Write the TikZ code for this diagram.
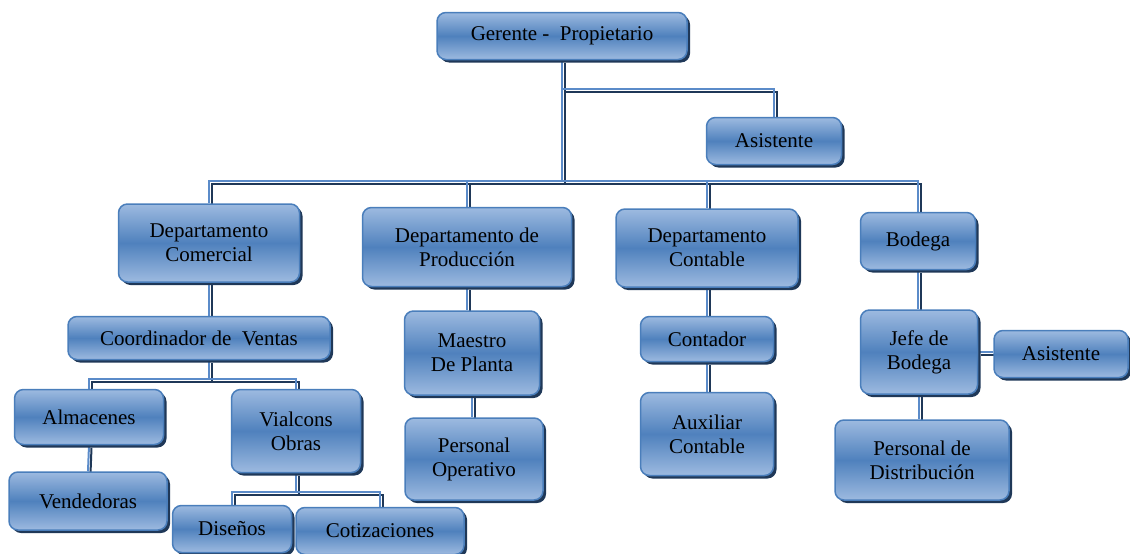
\documentclass[tikz,border=0pt]{standalone}
\usepackage{fontspec}
\setmainfont{Liberation Serif}
\usetikzlibrary{positioning, shadows, backgrounds}
\definecolor{boxlight}{HTML}{9DBAE0}
\definecolor{boxmid}{HTML}{4F81BD}
\definecolor{boxedge}{HTML}{4A7EBB}
\definecolor{navy}{HTML}{1F3858}
\definecolor{linkblue}{HTML}{5B8BC9}
\tikzset{
    orgbox/.style={
        rectangle, rounded corners=9pt, draw=boxedge, line width=1.5pt,
        top color=boxlight, bottom color=boxlight, middle color=boxmid,
        drop shadow={shadow xshift=3pt, shadow yshift=-3pt, fill=navy, opacity=1},
        align=center, inner sep=2pt, font=\fontsize{21}{24}\selectfont
    },
    link/.style={
        draw=linkblue, line width=2pt,
        preaction={draw=navy, line width=2pt, transform canvas={shift={(2.5pt,-2.5pt)}}}
    }
}

\begin{document}
\begin{tikzpicture}[x=1pt, y=-1pt]
    \useasboundingbox (0,0) rectangle (1130,554);

    % ── Top ──
    \node[orgbox, minimum width=250pt, minimum height=47pt] (ger)   at (562,36)  {Gerente -~ Propietario};
    \node[orgbox, minimum width=135pt, minimum height=47pt] (asis)  at (774,141) {Asistente};

    % ── Departments ──
    \node[orgbox, minimum width=181pt, minimum height=78pt] (dcom)  at (209,243) {Departamento\\Comercial};
    \node[orgbox, minimum width=209pt, minimum height=79pt] (dprod) at (467,247) {Departamento de\\Producción};
    \node[orgbox, minimum width=182pt, minimum height=78pt] (dcont) at (707,248) {Departamento\\Contable};
    \node[orgbox, minimum width=115pt, minimum height=57pt] (bod)   at (918,241) {Bodega};

    % ── Second level ──
    \node[orgbox, minimum width=262pt, minimum height=43pt] (coord)   at (199,338) {Coordinador de~ Ventas};
    \node[orgbox, minimum width=135pt, minimum height=84pt] (maestro) at (472,353) {Maestro\\De Planta};
    \node[orgbox, minimum width=133pt, minimum height=45pt] (conta)   at (707,339) {Contador};
    \node[orgbox, minimum width=117pt, minimum height=84pt] (jefe)    at (919,352) {Jefe de\\Bodega};
    \node[orgbox, minimum width=134pt, minimum height=47pt] (asisb)   at (1061,354) {Asistente};

    % ── Third level ──
    \node[orgbox, minimum width=149pt, minimum height=55pt] (alm)     at (89,417)  {Almacenes};
    \node[orgbox, minimum width=129pt, minimum height=83pt] (vial)    at (296,431) {Vialcons\\Obras};
    \node[orgbox, minimum width=138pt, minimum height=82pt] (persop)  at (474,459) {Personal\\Operativo};
    \node[orgbox, minimum width=133pt, minimum height=83pt] (aux)     at (707,434) {Auxiliar\\Contable};
    \node[orgbox, minimum width=174pt, minimum height=80pt] (persdis) at (922,460) {Personal de\\Distribución};

    % ── Bottom ──
    \node[orgbox, minimum width=158pt, minimum height=58pt] (vend)    at (88,501)  {Vendedoras};
    \node[orgbox, minimum width=119pt, minimum height=47pt] (dis)     at (232,529) {Diseños};
    \node[orgbox, minimum width=168pt, minimum height=47pt] (cot)     at (380,531) {Cotizaciones};

    % ── Bus lines ──
    \coordinate (asisbus) at (0,89);
    \coordinate (mainbus) at (0,181);
    \coordinate (coordbus) at (0,379);
    \coordinate (vialbus) at (0,492);

    \begin{scope}[on background layer]
        \draw[link] (ger.south) -- (ger.south |- mainbus);
        \draw[link] (ger.south |- asisbus) -| (asis.north);
        \draw[link] (dcom.north) |- (bod.north |- mainbus) -- (bod.north);
        \draw[link] (dprod.north) -- (dprod.north |- mainbus);
        \draw[link] (dcont.north) -- (dcont.north |- mainbus);

        \draw[link] (dcom.south)  -- (coord.north -| dcom.south);
        \draw[link] (coord.south -| dcom.south) -- (dcom.south |- coordbus);
        \draw[link] (alm.north) |- (coordbus -| vial.north) -- (vial.north);
        \draw[link] (alm.south) -- (vend.north);
        \draw[link] (vial.south) -- (vial.south |- vialbus);
        \draw[link] (dis.north) |- (vialbus -| cot.north) -- (cot.north);

        \draw[link] (dprod.south) -- (maestro.north -| dprod.south);
        \draw[link] (maestro.south) -- (persop.north -| maestro.south);
        \draw[link] (dcont.south) -- (conta.north);
        \draw[link] (conta.south) -- (aux.north);
        \draw[link] (bod.south) -- (jefe.north -| bod.south);
        \draw[link] (jefe.south) -- (persdis.north -| jefe.south);
        \draw[link] (jefe.east) -- (asisb.west |- jefe.east);
    \end{scope}

\end{tikzpicture}
\end{document}
